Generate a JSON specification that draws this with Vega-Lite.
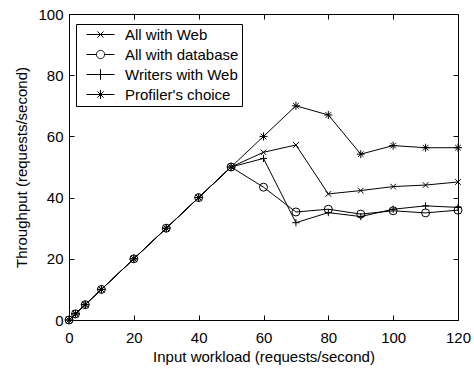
{
  "$schema": "https://vega.github.io/schema/vega-lite/v6.json",
  "width": 389,
  "height": 306,
  "autosize": {"type": "none"},
  "padding": {"left": 69, "top": 14, "right": 16, "bottom": 49},
  "background": "white",
  "config": {
    "font": "Liberation Sans",
    "view": {"stroke": "black", "strokeWidth": 1},
    "axis": {
      "grid": false,
      "labelFontSize": 15,
      "labelColor": "black",
      "titleFontSize": 15,
      "titleFontWeight": "normal",
      "titleColor": "black",
      "tickColor": "black",
      "domainColor": "black",
      "tickSize": -5,
      "labelFlush": false
    }
  },
  "data": {
    "values": [
      {"x": 0, "y": 0, "s": "All with Web"},
      {"x": 2, "y": 2, "s": "All with Web"},
      {"x": 5, "y": 5, "s": "All with Web"},
      {"x": 10, "y": 10, "s": "All with Web"},
      {"x": 20, "y": 20, "s": "All with Web"},
      {"x": 30, "y": 30, "s": "All with Web"},
      {"x": 40, "y": 40, "s": "All with Web"},
      {"x": 50, "y": 50, "s": "All with Web"},
      {"x": 60, "y": 54.8, "s": "All with Web"},
      {"x": 70, "y": 57.2, "s": "All with Web"},
      {"x": 80, "y": 41.2, "s": "All with Web"},
      {"x": 90, "y": 42.3, "s": "All with Web"},
      {"x": 100, "y": 43.6, "s": "All with Web"},
      {"x": 110, "y": 44.1, "s": "All with Web"},
      {"x": 120, "y": 45.1, "s": "All with Web"},
      {"x": 0, "y": 0, "s": "All with database"},
      {"x": 2, "y": 2, "s": "All with database"},
      {"x": 5, "y": 5, "s": "All with database"},
      {"x": 10, "y": 10, "s": "All with database"},
      {"x": 20, "y": 20, "s": "All with database"},
      {"x": 30, "y": 30, "s": "All with database"},
      {"x": 40, "y": 40, "s": "All with database"},
      {"x": 50, "y": 50, "s": "All with database"},
      {"x": 60, "y": 43.4, "s": "All with database"},
      {"x": 70, "y": 35.3, "s": "All with database"},
      {"x": 80, "y": 36.2, "s": "All with database"},
      {"x": 90, "y": 34.6, "s": "All with database"},
      {"x": 100, "y": 35.7, "s": "All with database"},
      {"x": 110, "y": 35.0, "s": "All with database"},
      {"x": 120, "y": 35.9, "s": "All with database"},
      {"x": 0, "y": 0, "s": "Writers with Web"},
      {"x": 2, "y": 2, "s": "Writers with Web"},
      {"x": 5, "y": 5, "s": "Writers with Web"},
      {"x": 10, "y": 10, "s": "Writers with Web"},
      {"x": 20, "y": 20, "s": "Writers with Web"},
      {"x": 30, "y": 30, "s": "Writers with Web"},
      {"x": 40, "y": 40, "s": "Writers with Web"},
      {"x": 50, "y": 50, "s": "Writers with Web"},
      {"x": 60, "y": 52.8, "s": "Writers with Web"},
      {"x": 70, "y": 31.8, "s": "Writers with Web"},
      {"x": 80, "y": 35.1, "s": "Writers with Web"},
      {"x": 90, "y": 33.8, "s": "Writers with Web"},
      {"x": 100, "y": 36.2, "s": "Writers with Web"},
      {"x": 110, "y": 37.3, "s": "Writers with Web"},
      {"x": 120, "y": 36.8, "s": "Writers with Web"},
      {"x": 0, "y": 0, "s": "Profiler's choice"},
      {"x": 2, "y": 2, "s": "Profiler's choice"},
      {"x": 5, "y": 5, "s": "Profiler's choice"},
      {"x": 10, "y": 10, "s": "Profiler's choice"},
      {"x": 20, "y": 20, "s": "Profiler's choice"},
      {"x": 30, "y": 30, "s": "Profiler's choice"},
      {"x": 40, "y": 40, "s": "Profiler's choice"},
      {"x": 50, "y": 50, "s": "Profiler's choice"},
      {"x": 60, "y": 60, "s": "Profiler's choice"},
      {"x": 70, "y": 70, "s": "Profiler's choice"},
      {"x": 80, "y": 67, "s": "Profiler's choice"},
      {"x": 90, "y": 54.2, "s": "Profiler's choice"},
      {"x": 100, "y": 57, "s": "Profiler's choice"},
      {"x": 110, "y": 56.3, "s": "Profiler's choice"},
      {"x": 120, "y": 56.3, "s": "Profiler's choice"}
    ]
  },
  "layer": [
    {
      "mark": {"type": "line", "color": "black", "strokeWidth": 1},
      "encoding": {
        "x": {"field": "x", "type": "quantitative", "scale": {"domain": [0, 120], "nice": false},
              "axis": {"orient": "bottom", "values": [0, 20, 40, 60, 80, 100, 120], "title": "Input workload (requests/second)", "titlePadding": 4, "labelPadding": 15}},
        "y": {"field": "y", "type": "quantitative", "scale": {"domain": [0, 100], "nice": false},
              "axis": {"orient": "left", "values": [0, 20, 40, 60, 80, 100], "title": "Throughput (requests/second)", "titlePadding": 8, "labelPadding": 11}},
        "detail": {"field": "s", "type": "nominal"}
      }
    },
    {
      "mark": {"type": "point", "filled": false, "color": "black", "strokeWidth": 1, "opacity": 1, "size": 64},
      "encoding": {
        "x": {"field": "x", "type": "quantitative",
              "axis": {"orient": "top", "values": [0, 20, 40, 60, 80, 100, 120], "labels": false, "title": null, "domain": false}},
        "y": {"field": "y", "type": "quantitative",
              "axis": {"orient": "right", "values": [0, 20, 40, 60, 80, 100], "labels": false, "title": null, "domain": false}},
        "shape": {"field": "s", "type": "nominal", "legend": null,
                  "scale": {"domain": ["All with Web", "All with database", "Writers with Web", "Profiler's choice"],
                            "range": ["M-0.7,-0.7L0.7,0.7M0.7,-0.7L-0.7,0.7", "circle", "M-0.9,0L0.9,0M0,-0.9L0,0.9", "M-1,0L1,0M0,-1L0,1M-0.7,-0.7L0.7,0.7M0.7,-0.7L-0.7,0.7"]}}
      }
    },
    {
      "transform": [{"filter": "datum.x < 0"}],
      "mark": {"type": "point", "filled": false, "color": "black", "strokeWidth": 1, "opacity": 1},
      "encoding": {
        "x": {"field": "x", "type": "quantitative", "axis": null},
        "y": {"field": "y", "type": "quantitative", "axis": null},
        "shape": {"field": "s", "type": "nominal",
                  "scale": {"domain": ["All with Web", "All with database", "Writers with Web", "Profiler's choice"],
                            "range": ["M0,0L4.667,0M1.833,-0.5L2.833,0.5M2.833,-0.5L1.833,0.5",
                                      "M0,0L1.667,0M3,0L4.667,0M1.667,0A0.667,0.667,0,1,1,3,0A0.667,0.667,0,1,1,1.667,0",
                                      "M0,0L4.667,0M2.333,-0.9L2.333,0.9",
                                      "M0,0L4.667,0M2.333,-0.75L2.333,0.75M1.803,-0.53L2.863,0.53M2.863,-0.53L1.803,0.53"]},
                  "legend": {
                    "title": null, "orient": "none", "legendX": 7, "legendY": 10,
                    "padding": 3, "strokeColor": "black", "fillColor": "white",
                    "labelFontSize": 15, "labelColor": "black", "labelOffset": 31,
                    "symbolSize": 144, "symbolStrokeWidth": 1, "symbolStrokeColor": "black",
                    "symbolFillColor": "transparent", "rowPadding": 4, "cornerRadius": 0
                  }}
      }
    }
  ],
  "resolve": {"axis": {"x": "independent", "y": "independent"}, "scale": {"shape": "independent"}}
}
